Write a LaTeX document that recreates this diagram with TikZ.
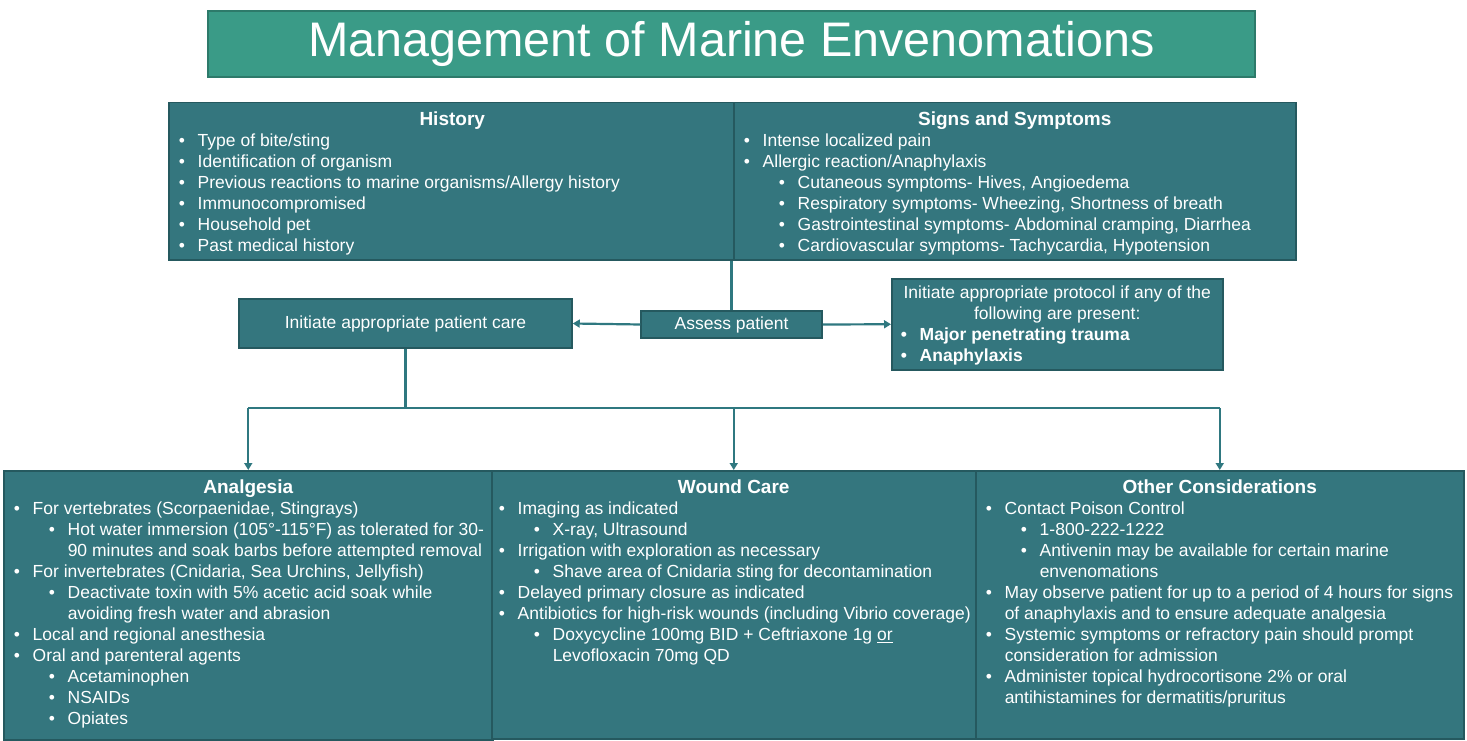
\documentclass[tikz,border=0pt]{standalone}
\usepackage{fontspec}
\setmainfont{Liberation Sans}
\usetikzlibrary{arrows.meta}

\definecolor{panel}{HTML}{34767E}
\definecolor{panelline}{HTML}{25595F}
\definecolor{titlefill}{HTML}{3A9B87}
\definecolor{titleline}{HTML}{2D7A6A}
\definecolor{wire}{HTML}{2F7880}

\newlength{\lead}
\setlength{\lead}{10pt}
\newcommand{\bul}[1]{\par\hangindent=\dimexpr\lead+19pt\relax\hangafter=1\noindent\hspace*{\lead}\makebox[19pt][l]{\textbullet}#1}
\newcommand{\subbul}[1]{\par\hangindent=\dimexpr\lead+54pt\relax\hangafter=1\noindent\hspace*{\dimexpr\lead+35pt\relax}\makebox[19pt][l]{\textbullet}#1}
\newcommand{\head}[1]{{\centering\fontsize{19}{21}\selectfont\bfseries\rule{0pt}{23pt}#1\par}}
\newcommand{\body}{\fontsize{17.5}{21}\selectfont}

\begin{document}
\begin{tikzpicture}[x=1pt, y=-1pt,
  panel/.style={draw=panelline, fill=panel, line width=1.5pt, inner sep=0pt,
    anchor=north west, text=white},
  tag/.style={draw=panelline, fill=panel, line width=1.5pt, inner sep=0pt,
    text=white, font=\body},
  wire/.style={draw=wire, line width=2.2pt},
  flow/.style={wire, -{Triangle[length=7pt,width=8pt]}}]
  \useasboundingbox (0,0) rectangle (1467,741);

  % 标题
  \node[draw=titleline, fill=titlefill, line width=1.5pt, text=white,
        minimum width=1047pt, minimum height=66pt, inner sep=0pt,
        font=\fontsize{48.5}{56}\selectfont] (title) at (731.5,44)
        {Management of Marine Envenomations};

  % 病史 / 症状
  \node[panel] (hist) at (168,102) {\parbox[c][157pt][t]{567pt}{%
    \body\raggedright
    \head{History}
    \bul{Type of bite/sting}
    \bul{Identification of organism}
    \bul{Previous reactions to marine organisms/Allergy history}
    \bul{Immunocompromised}
    \bul{Household pet}
    \bul{Past medical history}}};
  \node[panel] (signs) at (733,102) {\parbox[c][157pt][t]{562pt}{%
    \body\raggedright
    \head{Signs and Symptoms}
    \bul{Intense localized pain}
    \bul{Allergic reaction/Anaphylaxis}
    \subbul{Cutaneous symptoms- Hives, Angioedema}
    \subbul{Respiratory symptoms- Wheezing, Shortness of breath}
    \subbul{Gastrointestinal symptoms- Abdominal cramping, Diarrhea}
    \subbul{Cardiovascular symptoms- Tachycardia, Hypotension}}};

  % 中间一行
  \node[tag, minimum width=181pt, minimum height=27pt] (assess) at (731.5,324.5)
        {Assess patient};
  \node[tag, minimum width=333pt, minimum height=49pt] (care) at (405.5,323.5)
        {Initiate appropriate patient care};
  \node[panel] (proto) at (891,278) {\parbox[c][91pt][t]{331pt}{%
    \body
    {\centering\rule{0pt}{20pt}Initiate appropriate protocol if any of the\\
     following are present:\par}
    \raggedright\bfseries\setlength{\lead}{9pt}
    \bul{Major penetrating trauma}
    \bul{Anaphylaxis}}};

  % 下面三栏
  \node[panel] (analg) at (3,470) {\parbox[c][269pt][t]{489pt}{%
    \body\raggedright
    \head{Analgesia}
    \bul{For vertebrates (Scorpaenidae, Stingrays)}
    \subbul{Hot water immersion (105°-115°F) as tolerated for 30-\newline
            90 minutes and soak barbs before attempted removal}
    \bul{For invertebrates (Cnidaria, Sea Urchins, Jellyfish)}
    \subbul{Deactivate toxin with 5\% acetic acid soak while\newline
            avoiding fresh water and abrasion}
    \bul{Local and regional anesthesia}
    \bul{Oral and parenteral agents}
    \subbul{Acetaminophen}
    \subbul{NSAIDs}
    \subbul{Opiates}}};
  \node[panel] (wound) at (491,470) {\parbox[c][268pt][t]{484pt}{%
    \body\raggedright\setlength{\lead}{7pt}
    \head{Wound Care}
    \bul{Imaging as indicated}
    \subbul{X-ray, Ultrasound}
    \bul{Irrigation with exploration as necessary}
    \subbul{Shave area of Cnidaria sting for decontamination}
    \bul{Delayed primary closure as indicated}
    \bul{Antibiotics for high-risk wounds (including Vibrio coverage)}
    \subbul{Doxycycline 100mg BID + Ceftriaxone 1g \underline{or}\newline
            Levofloxacin 70mg QD}}};
  \node[panel] (other) at (975,470) {\parbox[c][268pt][t]{488pt}{%
    \body\raggedright
    \head{Other Considerations}
    \bul{Contact Poison Control}
    \subbul{1-800-222-1222}
    \subbul{Antivenin may be available for certain marine\newline
            envenomations}
    \bul{May observe patient for up to a period of 4 hours for signs\newline
         of anaphylaxis and to ensure adequate analgesia}
    \bul{Systemic symptoms or refractory pain should prompt\newline
         consideration for admission}
    \bul{Administer topical hydrocortisone 2\% or oral\newline
         antihistamines for dermatitis/pruritus}}};

  % 连线
  \draw[wire] (assess.north) -- (assess.north |- signs.south);
  \draw[flow] (assess.west) -- (care.east);
  \draw[flow] (assess.east) -- (proto.west);
  \coordinate (bus) at (405.5,408);
  \draw[wire] (care.south) -- (bus);
  \draw[wire] (analg.north |- bus) -- (other.north |- bus);
  \draw[flow] (analg.north |- bus) -- (analg.north);
  \draw[flow] (wound.north |- bus) -- (wound.north);
  \draw[flow] (other.north |- bus) -- (other.north);
\end{tikzpicture}
\end{document}
